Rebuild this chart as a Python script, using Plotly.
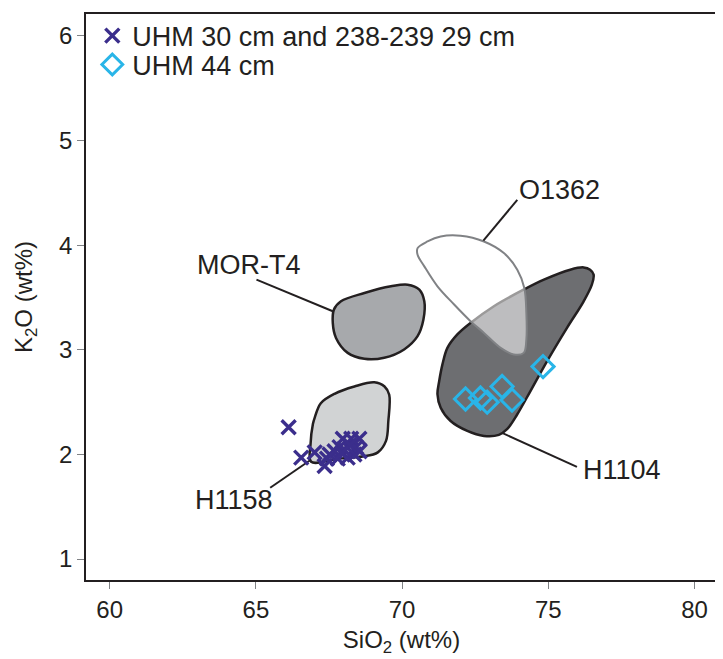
import plotly.graph_objects as go

# ---- data (SiO2 wt%, K2O wt%) ----
h1104_sio2 = [76.43, 76.21, 75.75, 74.85, 74.16, 73.14, 72.34, 71.89, 71.55, 71.38, 71.27, 71.21, 71.32,
              71.66, 72.23, 72.80, 73.31, 73.59, 73.94, 74.39, 74.96, 75.64, 76.21, 76.49, 76.55, 76.43]
h1104_k2o = [3.766, 3.788, 3.766, 3.671, 3.576, 3.417, 3.257, 3.147, 3.019, 2.861, 2.702, 2.575, 2.447,
             2.320, 2.225, 2.177, 2.187, 2.241, 2.384, 2.606, 2.892, 3.210, 3.464, 3.623, 3.719, 3.766]

o1362_sio2 = [70.53, 70.87, 71.32, 72.00, 72.80, 73.48, 73.94, 74.18, 74.25, 74.25, 74.16, 73.82, 73.37,
              72.80, 72.34, 71.78, 71.21, 70.76, 70.53, 70.53]
o1362_k2o = [3.972, 4.036, 4.084, 4.091, 4.036, 3.925, 3.766, 3.591, 3.353, 3.099, 2.971, 2.956, 3.019,
             3.162, 3.274, 3.433, 3.607, 3.798, 3.909, 3.972]

mort4_sio2 = [67.67, 67.91, 68.71, 69.62, 70.19, 70.59, 70.76, 70.73, 70.53, 70.07, 69.39, 68.71, 68.14,
              67.74, 67.63, 67.67]
mort4_k2o = [3.385, 3.464, 3.543, 3.607, 3.623, 3.576, 3.464, 3.290, 3.131, 3.004, 2.924, 2.914, 2.971,
             3.114, 3.257, 3.385]

h1158_sio2 = [66.87, 66.95, 67.01, 67.22, 67.69, 68.37, 69.05, 69.40, 69.56, 69.53, 69.45, 69.17, 68.65,
              67.80, 66.89, 66.87]
h1158_k2o = [2.10, 2.29, 2.35, 2.49, 2.58, 2.65, 2.69, 2.65, 2.57, 2.32, 2.13, 2.02, 1.98,
             1.96, 1.93, 2.10]

uhm30_sio2 = [66.12, 66.55, 67.01, 67.35, 67.52, 67.69, 67.86, 67.97, 68.26, 68.14, 68.43, 68.54, 68.37,
              67.80, 68.01, 67.43, 68.21, 67.94, 68.55]
uhm30_k2o = [2.26, 1.97, 2.02, 1.89, 2.00, 2.03, 2.07, 2.15, 2.15, 1.97, 2.07, 2.15, 2.00,
             1.96, 2.05, 1.96, 2.09, 2.01, 2.03]

uhm44_sio2 = [72.17, 72.68, 72.91, 73.42, 73.76, 74.82]
uhm44_k2o = [2.53, 2.54, 2.50, 2.65, 2.52, 2.84]

# leader lines (label -> field)
lead_mort4_x = [65.02, 67.63]
lead_mort4_y = [3.671, 3.369]
lead_o1362_x = [73.94, 72.78]
lead_o1362_y = [4.434, 4.043]
lead_h1104_x = [73.42, 75.98]
lead_h1104_y = [2.206, 1.882]
lead_h1158_x = [65.49, 66.88]
lead_h1158_y = [1.682, 1.949]

x_ticks = [60, 65, 70, 75, 80]
y_ticks = [1, 2, 3, 4, 5, 6]

FONT = "Liberation Sans, Arial, sans-serif"
TXT = "#231f20"

fig = go.Figure()

def field(xs, ys, fill, line_col, line_w=2.5):
    fig.add_trace(go.Scatter(x=xs, y=ys, mode="lines", fill="toself", fillcolor=fill,
                             line=dict(color=line_col, width=line_w, shape="spline", smoothing=1.0),
                             showlegend=False, hoverinfo="skip"))

field(h1104_sio2, h1104_k2o, "#6d6e71", TXT)
field(o1362_sio2, o1362_k2o, "rgba(255,255,255,0.55)", "#808285", 2)
field(mort4_sio2, mort4_k2o, "#a7a9ac", TXT)
field(h1158_sio2, h1158_k2o, "#d1d3d4", TXT)

for lx, ly in [(lead_mort4_x, lead_mort4_y), (lead_o1362_x, lead_o1362_y),
               (lead_h1104_x, lead_h1104_y), (lead_h1158_x, lead_h1158_y)]:
    fig.add_trace(go.Scatter(x=lx, y=ly, mode="lines", line=dict(color=TXT, width=2),
                             showlegend=False, hoverinfo="skip"))

fig.add_trace(go.Scatter(x=uhm30_sio2, y=uhm30_k2o, mode="markers", name="UHM 30 cm and 238-239 29 cm",
                         legend="legend",
                         marker=dict(symbol="x-thin", size=14, line=dict(color="#3b2e8c", width=3.4),
                                     color="#3b2e8c")))
fig.add_trace(go.Scatter(x=uhm44_sio2, y=uhm44_k2o, mode="markers", name="UHM 44 cm",
                         legend="legend2",
                         marker=dict(symbol="diamond-open", size=17, line=dict(color="#29b5e8", width=3),
                                     color="#29b5e8")))

labels = [("MOR-T4", 64.78, 3.81), ("O1362", 75.40, 4.53), ("H1104", 77.51, 1.85), ("H1158", 64.26, 1.56)]
for t, x, y in labels:
    fig.add_annotation(x=x, y=y, text=t, showarrow=False, font=dict(family=FONT, size=27, color=TXT))

axis_common = dict(showgrid=False, zeroline=False, showline=True, mirror=True, linecolor=TXT, linewidth=1.6,
                   ticks="outside", ticklen=7, tickcolor="#808285", tickwidth=1.3,
                   tickfont=dict(family=FONT, size=24, color=TXT))

leg_common = dict(x=0.01, xanchor="left", yanchor="middle", bgcolor="rgba(0,0,0,0)",
                  font=dict(family=FONT, size=27, color=TXT), itemwidth=30)

fig.update_layout(
    width=715, height=651,
    margin=dict(l=78, r=4, t=4, b=79),
    paper_bgcolor="white", plot_bgcolor="white",
    xaxis=dict(range=[59.19, 80.77], tickvals=x_ticks, ticktext=[str(v) for v in x_ticks],
               title=dict(text="SiO<sub>2</sub> (wt%)", font=dict(family=FONT, size=24, color=TXT), standoff=10),
               **axis_common),
    yaxis=dict(range=[0.80, 6.21], tickvals=y_ticks, ticktext=[str(v) for v in y_ticks],
               title=dict(text="K<sub>2</sub>O (wt%)", font=dict(family=FONT, size=24, color=TXT), standoff=20),
               **axis_common),
    legend=dict(y=0.961, **leg_common),
    legend2=dict(y=0.910, **leg_common),
    showlegend=True,
)

fig.write_html("out.html")
